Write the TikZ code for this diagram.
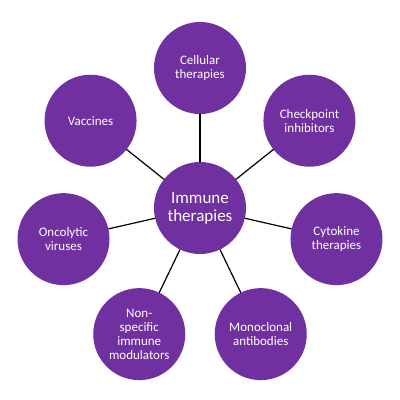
\documentclass[tikz,border=0pt]{standalone}
\usepackage{fontspec}
\setmainfont{Carlito}
\usetikzlibrary{calc}
\definecolor{therapurple}{HTML}{7030A0}
\begin{document}
\begin{tikzpicture}[x=1pt,y=1pt,line join=round,line cap=round,
	leaf/.style={circle,fill=therapurple,text=white,minimum size=92pt,inner sep=0pt,align=center,
		font=\fontsize{13}{14}\selectfont},
	hub/.style={leaf,font=\fontsize{17}{18}\selectfont},
	spoke/.style={line width=1.2pt,black}]
	\useasboundingbox (0,0) rectangle (400,400);
	\node[hub] (immune) at (200,192) {Immune\\therapies};
	\foreach \i/\name/\txt in {0/cellular/{Cellular\\therapies},1/checkpoint/{Checkpoint\\inhibitors},
		2/cytokine/{Cytokine\\therapies},3/monoclonal/{Monoclonal\\antibodies},
		4/nonspecific/{Non-\\specific\\immune\\modulators},5/oncolytic/{Oncolytic\\viruses},6/vaccines/{Vaccines}} {
		\node[leaf] (\name) at ($(immune)+({90-360/7*\i}:140)$) {\txt};
		\draw[spoke] (immune) -- (\name);}
\end{tikzpicture}
\end{document}
